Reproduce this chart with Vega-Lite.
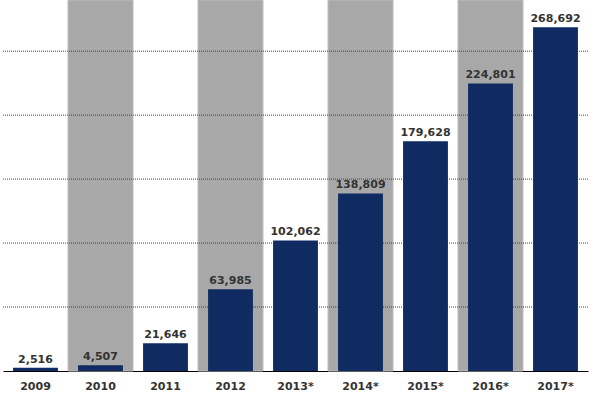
{
  "$schema": "https://vega.github.io/schema/vega-lite/v6.json",
  "width": 585,
  "height": 371,
  "autosize": "none",
  "padding": {"left": 3, "top": 0, "right": 26, "bottom": 42},
  "background": "white",
  "config": {"view": {"stroke": null}, "font": "DejaVu Sans"},
  "datasets": {
    "main": [
      {"year": "2009", "value": 2516, "shade": 0},
      {"year": "2010", "value": 4507, "shade": 1},
      {"year": "2011", "value": 21646, "shade": 0},
      {"year": "2012", "value": 63985, "shade": 1},
      {"year": "2013*", "value": 102062, "shade": 0},
      {"year": "2014*", "value": 138809, "shade": 1},
      {"year": "2015*", "value": 179628, "shade": 0},
      {"year": "2016*", "value": 224801, "shade": 1},
      {"year": "2017*", "value": 268692, "shade": 0}
    ],
    "grid": [{"g": 50000}, {"g": 100000}, {"g": 150000}, {"g": 200000}, {"g": 250000}]
  },
  "data": {"name": "main"},
  "encoding": {
    "x": {
      "field": "year", "type": "nominal",
      "sort": ["2009", "2010", "2011", "2012", "2013*", "2014*", "2015*", "2016*", "2017*"],
      "scale": {"domain": ["2009", "2010", "2011", "2012", "2013*", "2014*", "2015*", "2016*", "2017*"], "paddingInner": 0, "paddingOuter": 0},
      "axis": {
        "title": null, "labelAngle": 0, "ticks": false, "grid": false,
        "domainColor": "#000000", "domainWidth": 1.2,
        "labelFont": "DejaVu Sans", "labelFontSize": 11, "labelFontWeight": "bold",
        "labelColor": "#333333", "labelPadding": 9
      }
    }
  },
  "layer": [
    {
      "transform": [{"filter": "datum.shade == 1"}],
      "mark": {"type": "bar", "color": "#a8a8a8", "stroke": "#bdbdbd", "strokeWidth": 1},
      "encoding": {
        "y": {"datum": 290000, "type": "quantitative", "scale": {"domain": [0, 290000], "nice": false}, "axis": null},
        "y2": {"datum": 0}
      }
    },
    {
      "data": {"name": "grid"},
      "mark": {"type": "rule", "color": "#444444", "strokeDash": [1, 1], "strokeWidth": 1},
      "encoding": {
        "x": null,
        "y": {"field": "g", "type": "quantitative"}
      }
    },
    {
      "mark": {"type": "bar", "color": "#0f2b61", "width": {"band": 0.69}},
      "encoding": {
        "y": {"field": "value", "type": "quantitative"}
      }
    },
    {
      "mark": {"type": "text", "baseline": "bottom", "dy": -3, "font": "DejaVu Sans", "fontSize": 11, "fontWeight": "bold", "color": "#333333"},
      "encoding": {
        "y": {"field": "value", "type": "quantitative"},
        "text": {"field": "value", "type": "quantitative", "format": ","}
      }
    }
  ]
}
